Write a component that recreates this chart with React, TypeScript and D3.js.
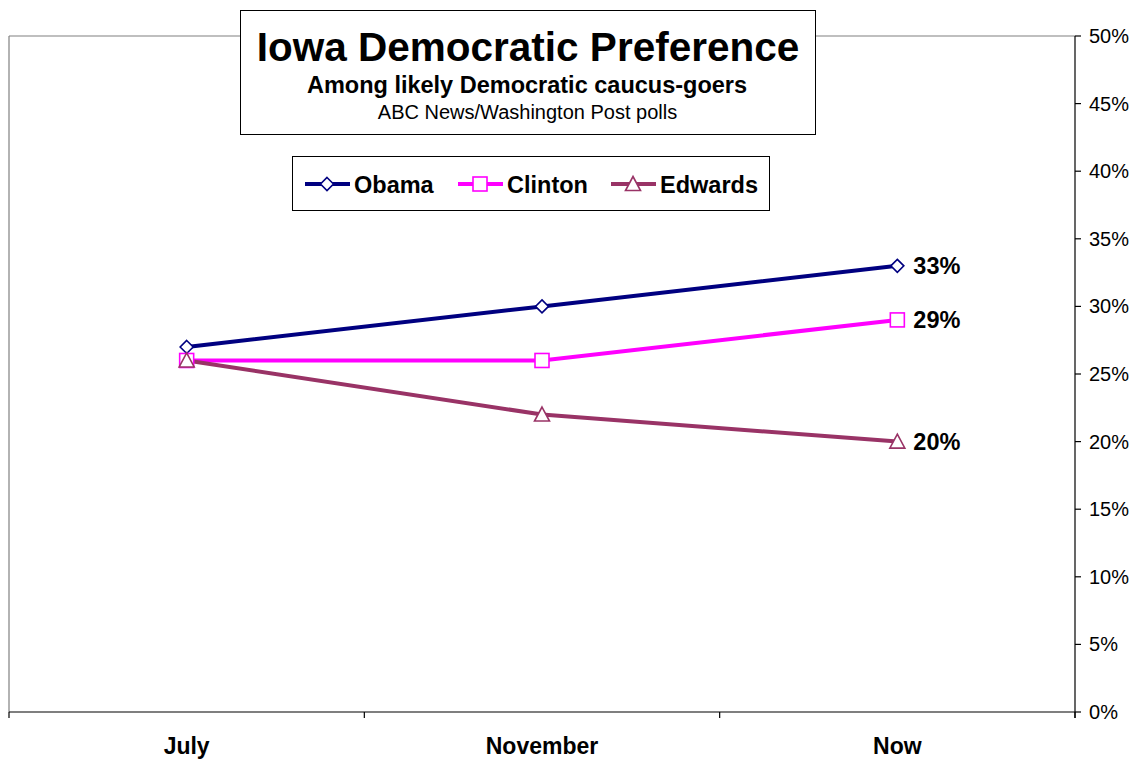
import React from "react";
import * as d3 from "d3";

const categories = ["July", "November", "Now"];
const obama = [27, 30, 33];
const clinton = [26, 26, 29];
const edwards = [26, 22, 20];
const yTicks = [0, 5, 10, 15, 20, 25, 30, 35, 40, 45, 50];

const W = 1136;
const H = 759;
const left = 9;
const right = 1075;
const top = 36;
const bottom = 712;
const font = "'Liberation Sans', Arial, sans-serif";

const series = [
  { name: "Obama", values: obama, color: "#000080", marker: "diamond" },
  { name: "Clinton", values: clinton, color: "#FF00FF", marker: "square" },
  { name: "Edwards", values: edwards, color: "#993366", marker: "triangle" },
];

function Marker({ type, x, y, color }: { type: string; x: number; y: number; color: string }) {
  if (type === "diamond") {
    const r = 6.5;
    return (
      <path
        d={`M${x},${y - r}L${x + r},${y}L${x},${y + r}L${x - r},${y}Z`}
        fill="#fff"
        stroke={color}
        strokeWidth={1.6}
      />
    );
  }
  if (type === "square") {
    const r = 7;
    return <rect x={x - r} y={y - r} width={2 * r} height={2 * r} fill="#fff" stroke={color} strokeWidth={1.6} />;
  }
  const r = 7.5;
  return (
    <path
      d={`M${x},${y - r}L${x + r},${y + r - 1}L${x - r},${y + r - 1}Z`}
      fill="#fff"
      stroke={color}
      strokeWidth={1.6}
    />
  );
}

export default function App() {
  const x = d3.scaleBand<string>().domain(categories).range([left, right]);
  const y = d3.scaleLinear().domain([0, 50]).range([bottom, top]);
  const cx = (c: string) => (x(c) as number) + x.bandwidth() / 2;
  const line = d3
    .line<number>()
    .x((_, i) => cx(categories[i]))
    .y((v) => y(v));

  const boundaries = [left, ...categories.map((c) => (x(c) as number) + x.bandwidth())];

  const legendItems = [
    { s: series[0], lx: 305 },
    { s: series[1], lx: 458 },
    { s: series[2], lx: 611 },
  ];

  return (
    <svg
      width={W}
      height={H}
      style={{ position: "absolute", left: 0, top: 0, background: "#fff" }}
      fontFamily={font}
    >
      <rect x={0} y={0} width={W} height={H} fill="#fff" />
      {/* plot area border */}
      <line x1={left} x2={right} y1={top} y2={top} stroke="#808080" strokeWidth={1.2} />
      <line x1={left} x2={left} y1={top} y2={bottom} stroke="#808080" strokeWidth={1.2} />
      {/* right axis */}
      <line x1={right} x2={right} y1={top} y2={bottom + 6} stroke="#000" strokeWidth={1.2} />
      {yTicks.map((t) => (
        <g key={t}>
          <line x1={right} x2={right + 6} y1={y(t)} y2={y(t)} stroke="#000" strokeWidth={1.2} />
          <text x={1089} y={y(t) + 7} fontSize={20} fill="#000">
            {t}%
          </text>
        </g>
      ))}
      {/* bottom axis */}
      <line x1={left} x2={right} y1={bottom} y2={bottom} stroke="#000" strokeWidth={1.2} />
      {boundaries.map((b, i) => (
        <line key={i} x1={b} x2={b} y1={bottom} y2={bottom + 6} stroke="#000" strokeWidth={1.2} />
      ))}
      {categories.map((c) => (
        <text key={c} x={cx(c)} y={753.5} textAnchor="middle" fontSize={23} fontWeight="bold" fill="#000">
          {c}
        </text>
      ))}
      {/* lines */}
      {series.map((s) => (
        <path key={s.name} d={line(s.values) || ""} fill="none" stroke={s.color} strokeWidth={4} />
      ))}
      {series.map((s) =>
        s.values.map((v, i) => (
          <Marker key={s.name + i} type={s.marker} x={cx(categories[i])} y={y(v)} color={s.color} />
        ))
      )}
      {series.map((s) => (
        <text
          key={s.name + "lbl"}
          x={cx(categories[2]) + 16}
          y={y(s.values[2]) + 8.5}
          fontSize={23.5}
          fontWeight="bold"
          fill="#000"
        >
          {s.values[2]}%
        </text>
      ))}
      {/* title box */}
      <rect x={240.5} y={10.5} width={575} height={124} fill="#fff" stroke="#000" strokeWidth={1} />
      <text x={528} y={61} textAnchor="middle" fontSize={40.5} fontWeight="bold" fill="#000">
        Iowa Democratic Preference
      </text>
      <text x={527} y={93} textAnchor="middle" fontSize={23.5} fontWeight="bold" fill="#000">
        Among likely Democratic caucus-goers
      </text>
      <text x={527.5} y={119} textAnchor="middle" fontSize={20} fill="#000">
        ABC News/Washington Post polls
      </text>
      {/* legend */}
      <rect x={292.5} y={156.5} width={477} height={54} fill="#fff" stroke="#000" strokeWidth={1} />
      {legendItems.map(({ s, lx }) => (
        <g key={s.name}>
          <line x1={lx} x2={lx + 45} y1={184} y2={184} stroke={s.color} strokeWidth={4} />
          <Marker type={s.marker} x={lx + 22} y={184} color={s.color} />
          <text x={lx + 49} y={192.5} fontSize={23.5} fontWeight="bold" fill="#000">
            {s.name}
          </text>
        </g>
      ))}
    </svg>
  );
}
